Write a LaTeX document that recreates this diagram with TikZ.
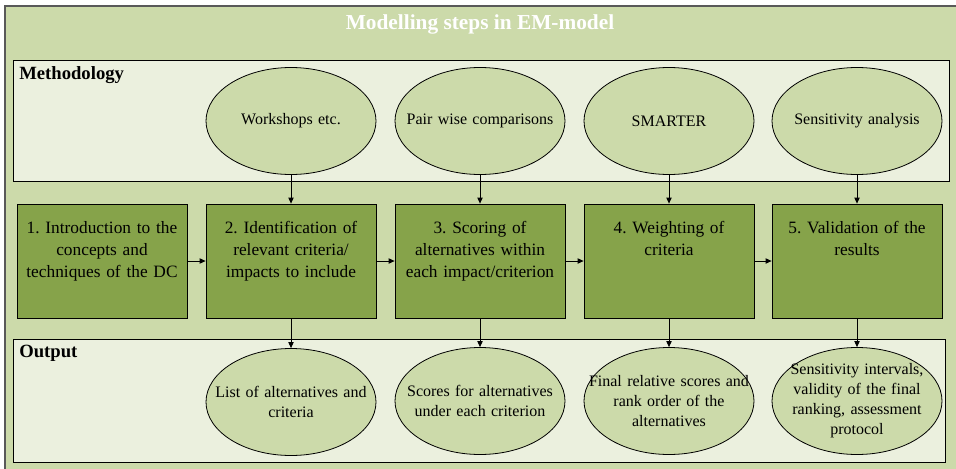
\documentclass[tikz,border=0pt]{standalone}
\usepackage{fontspec}
\setmainfont{Liberation Serif}
\usetikzlibrary{shapes.geometric}
\usetikzlibrary{arrows.meta}

\definecolor{outergreen}{HTML}{CCDAAA}
\definecolor{panelgreen}{HTML}{EBF0DE}
\definecolor{boxgreen}{HTML}{86A34A}

\tikzset{
  stepbox/.style={draw=black, fill=boxgreen, line width=0.6pt, text width=124pt, inner xsep=1.75pt,
    inner ysep=10.25pt, text height=11.5pt, text depth=53.5pt, align=center,
    font=\fontsize{13}{16.5}\selectfont\frenchspacing},
  oval/.style={ellipse, draw=black, fill=outergreen, line width=0.6pt, minimum width=127.5pt,
    minimum height=80.25pt, text width=130pt, inner xsep=-22pt, inner ysep=-3pt, align=center,
    font=\fontsize{12}{15}\selectfont\frenchspacing},
  arr/.style={-{Triangle[length=4.5pt,width=4pt]}, line width=0.6pt}
}

\begin{document}
\begin{tikzpicture}[x=0.75pt,y=-0.75pt]

\useasboundingbox (0,0) rectangle (956,468);
\filldraw[fill=outergreen, draw=black!65, line width=0.8pt] (5,6) rectangle (964,476);
\node[anchor=base, text=white, font=\fontsize{16}{18}\selectfont\bfseries] (title) at (480,29) {Modelling steps in EM-model};

\filldraw[fill=panelgreen, draw=black, line width=0.6pt] (13,60) rectangle (949,181);
\node[anchor=base west, font=\fontsize{14}{16}\selectfont\bfseries, inner sep=0pt] (meth) at (19,79) {Methodology};
\filldraw[fill=panelgreen, draw=black, line width=0.6pt] (13,339) rectangle (945,462);
\node[anchor=base west, font=\fontsize{14}{16}\selectfont\bfseries, inner sep=0pt] (outp) at (19,357) {Output};

% methods
\node[oval] (m2) at (291,121) {Workshops etc.};
\node[oval] (m3) at (480,121) {Pair wise comparisons};
\node[oval] (m4) at (669,121) {SMARTER};
\node[oval] (m5) at (857,121) {Sensitivity analysis};

% steps
\node[stepbox] (b1) at (102,261) {1. Introduction to the\\ concepts and\\ techniques of the DC};
\node[stepbox] (b2) at (291,261) {2. Identification of\\ relevant criteria/\\ impacts to include};
\node[stepbox] (b3) at (480,261) {3. Scoring of\\ alternatives within\\ each impact/criterion};
\node[stepbox] (b4) at (669,261) {4. Weighting of\\ criteria};
\node[stepbox] (b5) at (857,261) {5. Validation of the\\ results};

% outputs
\node[oval] (o2) at (291,402) {List of alternatives and\\ criteria};
\node[oval] (o3) at (480,401) {Scores for alternatives\\ under each criterion};
\node[oval] (o4) at (669,401) {Final relative scores and\\ rank order of the\\ alternatives};
\node[oval] (o5) at (857,401) {Sensitivity intervals,\\ validity of the final\\ ranking, assessment\\ protocol};

\draw[arr] (m2) -- (b2);
\draw[arr] (m3) -- (b3);
\draw[arr] (m4) -- (b4);
\draw[arr] (m5) -- (b5);

\draw[arr] (b1) -- (b2);
\draw[arr] (b2) -- (b3);
\draw[arr] (b3) -- (b4);
\draw[arr] (b4) -- (b5);

\draw[arr] (b2) -- (o2);
\draw[arr] (b3) -- (o3);
\draw[arr] (b4) -- (o4);
\draw[arr] (b5) -- (o5);

\end{tikzpicture}
\end{document}
